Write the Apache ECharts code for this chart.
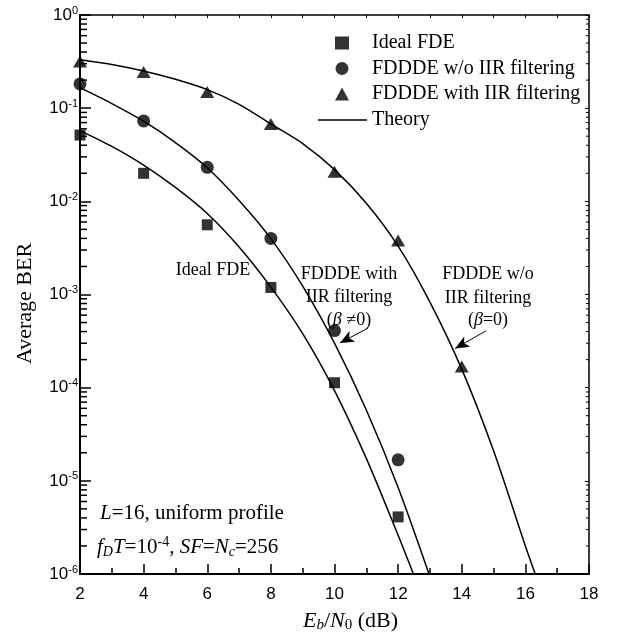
<!DOCTYPE html>
<html>
<head>
<meta charset="utf-8">
<title>Average BER vs Eb/N0</title>
<script src="https://cdn.jsdelivr.net/npm/echarts@6/dist/echarts.min.js"></script>
<style>
  body { margin: 0; background: #fff; }
</style>
</head>
<body>
<div id="main" style="width: 627px; height: 639px;"></div>
<script type="text/javascript">
  // simulated points (Eb/N0 in dB, BER)
  var simX = [2, 4, 6, 8, 10, 12, 14];
  var idealFde = [0.0515, 0.020, 0.0056, 0.00119, 1.13e-4, 4.1e-6];
  var fdddeWo = [0.182, 0.073, 0.0232, 0.0040, 4.1e-4, 1.68e-5];
  var fdddeWith = [0.316, 0.245, 0.149, 0.0676, 0.0208, 0.0038, 1.69e-4];

  // theory curves
  var thX1 = [2, 3, 4, 5, 6, 7, 8, 9, 10, 11, 12, 12.48];
  var thY1 = [0.0575, 0.0389, 0.0245, 0.0141, 0.00741, 0.00324, 0.0012, 3.8e-4, 9.3e-5, 1.74e-5, 2.6e-6, 1e-6];
  var thX2 = [2, 3, 4, 5, 6, 7, 8, 9, 10, 11, 12, 12.97];
  var thY2 = [0.166, 0.112, 0.0724, 0.0427, 0.0229, 0.0102, 0.00398, 0.00123, 3.0e-4, 5.75e-5, 8.5e-6, 1e-6];
  var thX3 = [2, 3, 4, 5, 6, 7, 8, 9, 10, 11, 12, 13, 14, 15, 16, 16.31];
  var thY3 = [0.331, 0.295, 0.251, 0.204, 0.158, 0.11, 0.0676, 0.0417, 0.0219, 0.00955, 0.00331, 8.3e-4, 1.58e-4, 2.1e-5, 2.0e-6, 1e-6];

  // annotation arrows: [from, to] in data coords
  var arrowWith = [[11.06, 4.37e-4], [10.17, 3.02e-4]];
  var arrowWo = [[14.76, 4.07e-4], [13.79, 2.63e-4]];

  var SERIF = "'Liberation Serif', 'DejaVu Serif', serif";
  var SANS = "'Liberation Sans', Arial, sans-serif";

  function pairs(xs, ys) {
    return ys.map(function (y, i) { return [xs[i], y]; });
  }

  // log minor tick positions 2..9 x 10^k
  var minorVals = [];
  for (var k = -6; k < 0; k++) {
    for (var m = 2; m <= 9; m++) minorVals.push([2, m * Math.pow(10, k)]);
  }

  var supRich = {
    b: { fontSize: 17, fontFamily: SANS, color: '#000', lineHeight: 20 },
    s: { fontSize: 11, fontFamily: SANS, color: '#000', verticalAlign: 'top', lineHeight: 12, padding: [0, 0, 6, 0] }
  };

  var chart = echarts.init(document.getElementById('main'), null, { renderer: 'canvas' });

  var lineStyle = { color: '#000', width: 1.5 };
  var theory = function (xs, ys) {
    return {
      name: 'Theory', type: 'line', data: pairs(xs, ys), smooth: 0.3,
      symbol: 'none', lineStyle: lineStyle, itemStyle: { color: '#000' }, z: 3
    };
  };
  var legendText = { fontFamily: SERIF, fontSize: 20, color: '#000', lineHeight: 20 };

  var option = {
    animation: false,
    backgroundColor: '#fff',
    grid: { left: 80, top: 15, right: 38, bottom: 65 },
    legend: [{
      orient: 'vertical', left: 335, top: 33, padding: 0,
      itemWidth: 14, itemHeight: 13, itemGap: 5.5,
      textStyle: Object.assign({ padding: [0, 0, 0, 18] }, legendText),
      data: ['Ideal FDE', 'FDDDE w/o IIR filtering', 'FDDDE with IIR filtering']
    }, {
      orient: 'vertical', left: 318, top: 110, padding: 0,
      itemWidth: 49, itemHeight: 1.5, icon: 'rect',
      textStyle: legendText,
      data: ['Theory']
    }],
    xAxis: [{
      type: 'value', min: 2, max: 18, interval: 2,
      name: '{i|E}{si|b}{t|/}{i|N}{s|0}{t| (dB)}',
      nameLocation: 'middle', nameGap: 36,
      nameTextStyle: {
        padding: [0, 0, 0, 32],
        rich: {
          i: { fontFamily: SERIF, fontSize: 22, fontStyle: 'italic', color: '#000' },
          t: { fontFamily: SERIF, fontSize: 22, color: '#000' },
          si: { fontFamily: SERIF, fontSize: 15, fontStyle: 'italic', color: '#000', verticalAlign: 'bottom', padding: [8, 0, 0, 0] },
          s: { fontFamily: SERIF, fontSize: 15, color: '#000', verticalAlign: 'bottom', padding: [8, 0, 0, 0] }
        }
      },
      axisLine: { lineStyle: { color: '#000', width: 2 } },
      axisTick: { inside: true, length: 10, lineStyle: { color: '#000', width: 1.5 } },
      minorTick: { show: true, splitNumber: 2, length: 6, lineStyle: { color: '#000', width: 1.5 } },
      axisLabel: { fontFamily: SANS, fontSize: 17, color: '#000', margin: 12 },
      splitLine: { show: false }
    }, {
      type: 'value', min: 2, max: 18, interval: 1, position: 'top',
      axisLine: { lineStyle: { color: '#000', width: 1.5 } },
      axisTick: { inside: true, length: 3, lineStyle: { color: '#000' } },
      axisLabel: { show: false },
      splitLine: { show: false }
    }],
    yAxis: [{
      type: 'log', logBase: 10, min: 1e-6, max: 1,
      name: 'Average BER', nameLocation: 'middle', nameGap: 44,
      nameTextStyle: { fontFamily: SERIF, fontSize: 22, color: '#000', padding: [0, 0, 0, -18] },
      axisLine: { lineStyle: { color: '#000', width: 2 } },
      axisTick: { inside: true, length: 11, lineStyle: { color: '#000', width: 1.5 } },
      axisLabel: {
        margin: 2,
        formatter: function (v) {
          return '{b|10}{s|' + Math.round(Math.log10(v)) + '}';
        },
        rich: supRich
      },
      splitLine: { show: false }
    }, {
      type: 'log', logBase: 10, min: 1e-6, max: 1, position: 'right',
      axisLine: { lineStyle: { color: '#000', width: 1.5 } },
      axisTick: { inside: true, length: 4, lineStyle: { color: '#000' } },
      axisLabel: { show: false },
      splitLine: { show: false }
    }],
    series: [
      {
        name: 'Ideal FDE', type: 'scatter', symbol: 'rect', symbolSize: 11,
        data: pairs(simX, idealFde), itemStyle: { color: '#000' }, z: 4
      },
      {
        name: 'FDDDE w/o IIR filtering', type: 'scatter', symbol: 'circle', symbolSize: 13,
        data: pairs(simX, fdddeWo), itemStyle: { color: '#000' }, z: 4
      },
      {
        name: 'FDDDE with IIR filtering', type: 'scatter', symbol: 'triangle', symbolSize: [14, 12],
        data: pairs(simX, fdddeWith), itemStyle: { color: '#000' }, z: 4
      },
      theory(thX1, thY1),
      theory(thX2, thY2),
      Object.assign(theory(thX3, thY3), {
        markLine: {
          silent: true, symbol: ['none', 'arrow'], symbolSize: [9, 14],
          lineStyle: { color: '#000', width: 1, type: 'solid' },
          label: { show: false },
          data: [
            [{ coord: arrowWith[0] }, { coord: arrowWith[1] }],
            [{ coord: arrowWo[0] }, { coord: arrowWo[1] }]
          ]
        }
      }),
      {
        // log minor ticks on left and right axes
        type: 'custom', silent: true, z: 5,
        data: minorVals,
        encode: { x: 0, y: 1 },
        renderItem: function (params, api) {
          var v = api.value(1);
          var l = api.coord([2, v]);
          var r = api.coord([18, v]);
          return {
            type: 'group',
            children: [
              { type: 'line', shape: { x1: l[0], y1: l[1], x2: l[0] + 7, y2: l[1] }, style: { stroke: '#000', lineWidth: 1.5 } },
              { type: 'line', shape: { x1: r[0], y1: r[1], x2: r[0] - 3, y2: r[1] }, style: { stroke: '#000', lineWidth: 1 } }
            ]
          };
        }
      }
    ],
    graphic: [
      { type: 'text', x: 213, y: 270, style: { text: 'Ideal FDE', font: '18px ' + SERIF, fill: '#000', align: 'center', verticalAlign: 'middle' } },
      { type: 'text', x: 349, y: 274, style: { text: 'FDDDE with', font: '18px ' + SERIF, fill: '#000', align: 'center', verticalAlign: 'middle' } },
      { type: 'text', x: 349, y: 297, style: { text: 'IIR filtering', font: '18px ' + SERIF, fill: '#000', align: 'center', verticalAlign: 'middle' } },
      { type: 'text', x: 349, y: 320, style: {
          text: '{t|(}{i|β}{t| ≠0)}', align: 'center', verticalAlign: 'middle',
          rich: { t: { fontFamily: SERIF, fontSize: 18, fill: '#000' }, i: { fontFamily: SERIF, fontSize: 18, fontStyle: 'italic', fill: '#000' } }
      } },
      { type: 'text', x: 488, y: 274, style: { text: 'FDDDE w/o', font: '18px ' + SERIF, fill: '#000', align: 'center', verticalAlign: 'middle' } },
      { type: 'text', x: 488, y: 298, style: { text: 'IIR filtering', font: '18px ' + SERIF, fill: '#000', align: 'center', verticalAlign: 'middle' } },
      { type: 'text', x: 488, y: 320, style: {
          text: '{t|(}{i|β}{t|=0)}', align: 'center', verticalAlign: 'middle',
          rich: { t: { fontFamily: SERIF, fontSize: 18, fill: '#000' }, i: { fontFamily: SERIF, fontSize: 18, fontStyle: 'italic', fill: '#000' } }
      } },
      { type: 'text', x: 100, y: 513, style: {
          text: '{i|L}{t|=16, uniform profile}', align: 'left', verticalAlign: 'middle',
          rich: { t: { fontFamily: SERIF, fontSize: 21, fill: '#000' }, i: { fontFamily: SERIF, fontSize: 21, fontStyle: 'italic', fill: '#000' } }
      } },
      { type: 'text', x: 97, y: 547, style: {
          text: '{i|f}{si|D}{i|T}{t|=10}{sp|-4}{t|, }{i|SF}{t|=}{i|N}{si|c}{t|=256}', align: 'left', verticalAlign: 'middle',
          rich: {
            t: { fontFamily: SERIF, fontSize: 21, fill: '#000' },
            i: { fontFamily: SERIF, fontSize: 21, fontStyle: 'italic', fill: '#000' },
            si: { fontFamily: SERIF, fontSize: 14, fontStyle: 'italic', fill: '#000', verticalAlign: 'bottom', padding: [10, 0, 0, 0] },
            sp: { fontFamily: SERIF, fontSize: 14, fill: '#000', verticalAlign: 'top', padding: [0, 0, 10, 0] }
          }
      } }
    ]
  };

  chart.setOption(option);
</script>
</body>
</html>
